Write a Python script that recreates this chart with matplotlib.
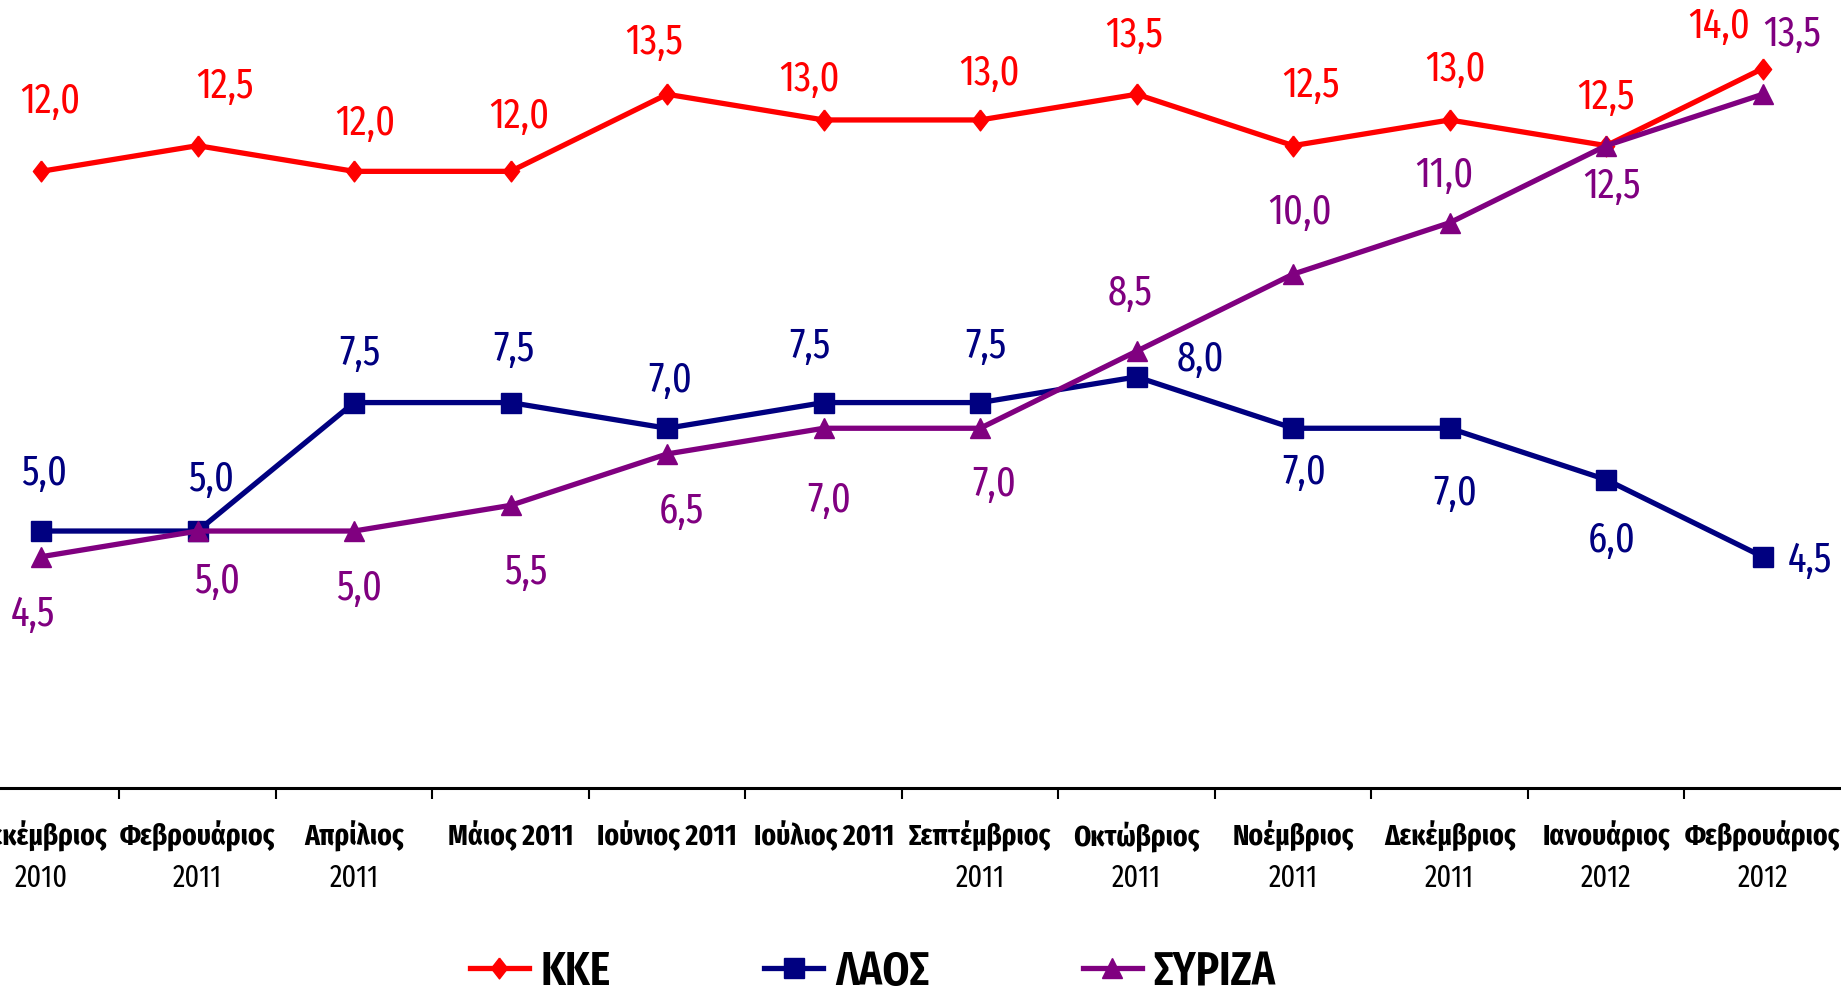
import matplotlib
matplotlib.use("Agg")
import matplotlib.pyplot as plt

# ---- data ----
months = ["Δεκέμβριος", "Φεβρουάριος", "Απρίλιος", "Μάιος 2011", "Ιούνιος 2011",
          "Ιούλιος 2011", "Σεπτέμβριος", "Οκτώβριος", "Νοέμβριος", "Δεκέμβριος",
          "Ιανουάριος", "Φεβρουάριος"]
years = ["2010", "2011", "2011", "", "", "", "2011", "2011", "2011", "2011", "2012", "2012"]

kke = [12.0, 12.5, 12.0, 12.0, 13.5, 13.0, 13.0, 13.5, 12.5, 13.0, 12.5, 14.0]
laos = [5.0, 5.0, 7.5, 7.5, 7.0, 7.5, 7.5, 8.0, 7.0, 7.0, 6.0, 4.5]
syriza = [4.5, 5.0, 5.0, 5.5, 6.5, 7.0, 7.0, 8.5, 10.0, 11.0, 12.5, 13.5]
series_names = ["ΚΚΕ", "ΛΑΟΣ", "ΣΥΡΙΖΑ"]

# ---- layout / style ----
colors = ["#FF0000", "#000080", "#800080"]
diamond = [(0, 1), (0.78, 0), (0, -1), (-0.78, 0), (0, 1)]
markers = [diamond, "s", "^"]
msizes = [15, 15, 15]

# label offsets in points (dx, dy)
kke_off = [(7, 51), (20, 43), (8, 35), (6, 40), (-9, 38), (-10, 30), (7, 34), (-2, 43),
           (13, 44), (4, 37), (0, 35), (-31, 31)]
laos_off = [(2, 42), (10, 38), (4, 36), (2, 39), (2, 35), (-10, 41), (4, 41), (46, 13),
            (8, -31), (4, -46), (4, -43), (34, -2)]
syr_off = [(-6, -41), (14, -36), (4, -41), (11, -48), (10, -41), (4, -51), (10, -40),
           (-5, 42), (5, 45), (-4, 35), (4, -29), (21, 44)]
offsets = [kke_off, laos_off, syr_off]

FAM = ["Fira Sans Extra Condensed", "DejaVu Sans"]
plt.rcParams["font.family"] = FAM

fig = plt.figure(figsize=(18.41, 10.03), dpi=100)
ax = fig.add_axes([-0.0202, 0.2134, 1.0202, 0.8197])
ax.set_xlim(-0.5, len(months) - 0.5)
ax.set_ylim(0, 16)

x = list(range(len(months)))
handles = []
for vals, col, mk, ms, offs, name, z in zip([kke, laos, syriza], colors, markers, msizes,
                                            offsets, series_names, [3, 4, 5]):
    ln, = ax.plot(x, vals, color=col, lw=3.8, marker=mk, ms=ms, mfc=col, mec=col,
                  label=name, zorder=z, clip_on=False)
    handles.append(ln)
    for xi, v, (dx, dy) in zip(x, vals, offs):
        ax.annotate(f"{v:.1f}".replace(".", ","), (xi, v), xytext=(dx, dy),
                    textcoords="offset points", ha="center", va="center",
                    fontsize=30, color=col, annotation_clip=False, zorder=6)

for s in ["top", "right", "left"]:
    ax.spines[s].set_visible(False)
ax.spines["bottom"].set_linewidth(2.2)
ax.set_yticks([])

ax.set_xticks(x)
ax.set_xticklabels(months, fontsize=21.5, fontweight="bold")
ax.tick_params(axis="x", which="major", length=0, pad=23)
ax.set_xticks([i + 0.5 for i in x[:-1]], minor=True)
ax.tick_params(axis="x", which="minor", length=8, width=1.5, direction="out")

for xi, yr in zip(x, years):
    if yr:
        ax.annotate(yr, (xi, 0), xytext=(0, -64), textcoords="offset points",
                    ha="center", va="center", fontsize=22, annotation_clip=False)

leg = fig.legend(handles=handles, loc="center", bbox_to_anchor=(0.474, 0.03), ncol=3,
                 frameon=False, handlelength=1.25, columnspacing=3.25,
                 handletextpad=0.25, borderpad=0.1,
                 prop={"family": FAM, "size": 34, "weight": "semibold"})

fig.savefig("out.png", dpi=100)
